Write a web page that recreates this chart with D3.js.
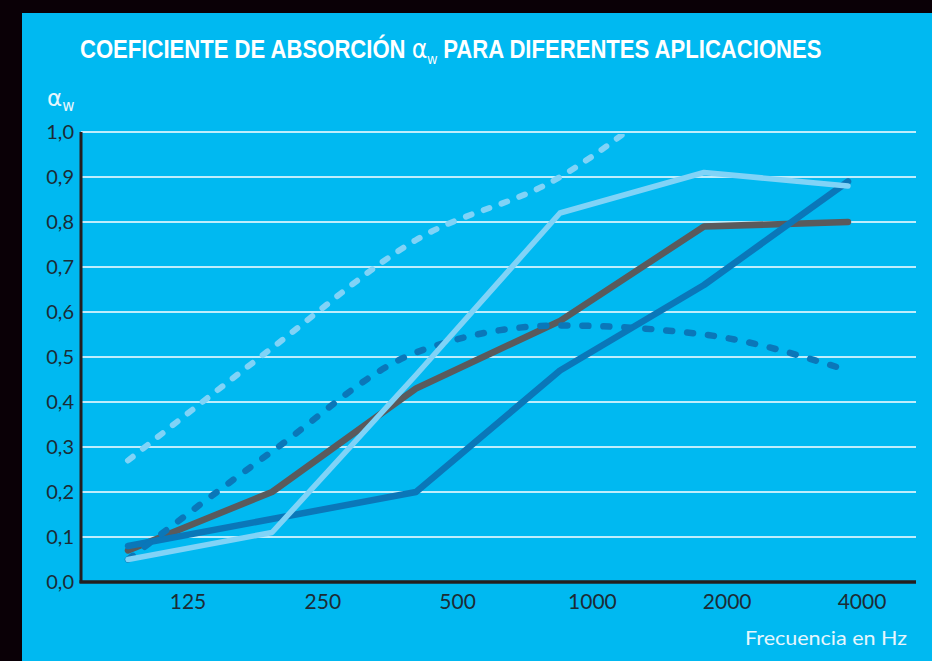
<!DOCTYPE html>
<html><head><meta charset="utf-8">
<script src="https://cdn.jsdelivr.net/npm/d3@7"></script>
<style>
html,body{margin:0;padding:0;background:#0a0006;}
svg{display:block;}
</style></head>
<body>
<svg id="chart" width="932" height="661"></svg>
<script>
// ---- data ----
const categories = ["125", "250", "500", "1000", "2000", "4000"];
const yTicks = [0, 0.1, 0.2, 0.3, 0.4, 0.5, 0.6, 0.7, 0.8, 0.9, 1.0];
const seriesGray      = [0.07, 0.20, 0.43, 0.58, 0.79, 0.80];
const seriesBlue      = [0.08, 0.14, 0.20, 0.47, 0.66, 0.89];
const seriesLight     = [0.05, 0.11, 0.46, 0.82, 0.91, 0.88];
const seriesBlueDash  = [0.05, 0.29, 0.51, 0.57, 0.55, 0.47];
const seriesLightDash = [0.27, 0.52, 0.76, 0.90, 1.14, null];
const title = "COEFICIENTE DE ABSORCIÓN";
const title2 = "PARA DIFERENTES APLICACIONES";
const xAxisTitle = "Frecuencia en Hz";

// ---- styles ----
const C = {
  frame: "#0a0006", bg: "#00b9f1", grid: "#ffffff", axis: "#231f20",
  tick: "#1c2c35", gray: "#5a5a5c", blue: "#0a77b9", light: "#80d3f7", white: "#ffffff"
};

const svg = d3.select("#chart");
svg.append("rect").attr("width", 932).attr("height", 661).attr("fill", C.frame);
svg.append("rect").attr("x", 22).attr("y", 13).attr("width", 910).attr("height", 648).attr("fill", C.bg);

const y = d3.scaleLinear().domain([0, 1]).range([582, 132]);
const xData = d3.scalePoint().domain(categories).range([128, 848]);
const xLab = d3.scalePoint().domain(categories).range([188, 862]);
const plotL = 81, plotR = 916;

const fmt = d => d3.format(".1f")(d).replace(".", ",");
const font = "Lato, 'Open Sans', sans-serif";

// gridlines
svg.append("g").selectAll("line").data(yTicks.filter(d => d > 0)).join("line")
  .attr("x1", plotL).attr("x2", plotR)
  .attr("y1", d => y(d)).attr("y2", d => y(d))
  .attr("stroke", C.grid).attr("stroke-width", 1.5);

// y tick labels
svg.append("g").selectAll("text").data(yTicks).join("text")
  .attr("x", 74).attr("y", d => y(d)).attr("dy", "0.36em")
  .attr("text-anchor", "end").attr("font-family", font).attr("font-size", 20)
  .attr("fill", C.tick).text(fmt);

// x tick labels
svg.append("g").selectAll("text").data(categories).join("text")
  .attr("x", d => xLab(d)).attr("y", 609)
  .attr("text-anchor", "middle").attr("font-family", font).attr("font-size", 21)
  .attr("fill", C.tick).text(d => d);

// clip for lines
svg.append("clipPath").attr("id", "clip").append("rect")
  .attr("x", plotL).attr("y", y(1) + 2).attr("width", plotR - plotL).attr("height", y(0) - y(1));

const lineLinear = d3.line().defined(d => d[1] != null)
  .x(d => xData(d[0])).y(d => y(d[1])).curve(d3.curveLinear);
const lineSmooth = d3.line().defined(d => d[1] != null)
  .x(d => xData(d[0])).y(d => y(d[1])).curve(d3.curveMonotoneX);

const series = [
  {v: seriesGray, color: C.gray, w: 6.5, dash: null, gen: lineLinear},
  {v: seriesBlue, color: C.blue, w: 6.5, dash: null, gen: lineLinear},
  {v: seriesBlueDash, color: C.blue, w: 6.5, dash: "6,15", gen: lineSmooth},
  {v: seriesLight, color: C.light, w: 5.5, dash: null, gen: lineLinear},
  {v: seriesLightDash, color: C.light, w: 6, dash: "6,13", gen: lineSmooth}
];
const gl = svg.append("g").attr("clip-path", "url(#clip)");
series.forEach(s => {
  gl.append("path")
    .attr("d", s.gen(categories.map((c, i) => [c, s.v[i]])))
    .attr("fill", "none").attr("stroke", s.color).attr("stroke-width", s.w)
    .attr("stroke-linecap", "round").attr("stroke-linejoin", "round")
    .attr("stroke-dasharray", s.dash);
});

// axes
svg.append("line").attr("x1", plotL).attr("x2", plotL).attr("y1", y(1)).attr("y2", y(0) + 1)
  .attr("stroke", C.axis).attr("stroke-width", 3);
svg.append("line").attr("x1", plotL - 1.5).attr("x2", plotR).attr("y1", y(0)).attr("y2", y(0))
  .attr("stroke", C.axis).attr("stroke-width", 3.5);

// title
const t = svg.append("text").attr("x", 80).attr("y", 58)
  .attr("font-family", "'Liberation Sans Narrow', 'Liberation Sans', sans-serif")
  .attr("font-weight", "bold").attr("font-size", 25).attr("fill", C.white);
t.append("tspan").text(title + " ");
t.append("tspan").attr("font-weight", "normal").attr("font-family", "'DejaVu Sans', sans-serif").attr("font-size", 27).text("α");
t.append("tspan").attr("font-weight", "normal").attr("font-size", 15).attr("dy", 6).text("w");
t.append("tspan").attr("dy", -6).text(" " + title2);
const tb = t.node().getBBox();
const sx = (822 - 80) / tb.width;
t.attr("transform", `translate(80,0) scale(${sx},1) translate(-80,0)`);

// y-axis label
const yl = svg.append("text").attr("x", 47).attr("y", 106).attr("fill", "#e6f6fd")
  .attr("font-family", "'DejaVu Sans', sans-serif").attr("font-size", 23);
yl.append("tspan").text("α");
yl.append("tspan").attr("font-size", 15).attr("dy", 5).text("w");

// x-axis title
svg.append("text").attr("x", 745).attr("y", 645)
  .attr("font-family", font).attr("font-size", 20).attr("fill", "#e6f6fd")
  .attr("textLength", 162).attr("lengthAdjust", "spacingAndGlyphs")
  .text(xAxisTitle);
</script>
</body></html>
